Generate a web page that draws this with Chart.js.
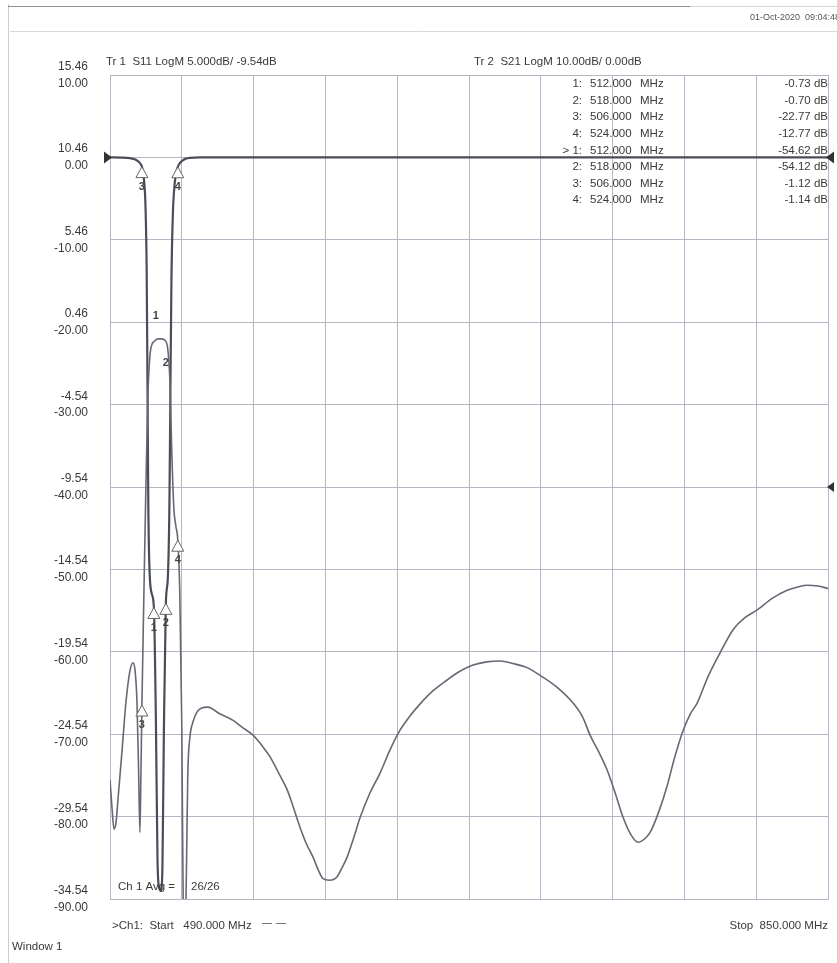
<!DOCTYPE html>
<html>
<head>
<meta charset="utf-8">
<script src="https://cdn.jsdelivr.net/npm/chart.js@4.4.0/dist/chart.umd.min.js"></script>
<style>
body{margin:0;background:#fff;}
</style>
</head>
<body>
<canvas id="vna" width="837" height="963"></canvas>
<script>
//Tr 1 (5 dB/div, escala izquierda)
var tr1Freq = [490,491,492,493,494,496,498,500,501.5,502.5,503.5,504.3,505,505.5,506,507,508,509,510,511,512,514,516,518,519,520,521,522,523,524,525,526,526.8,527.6,528.3,529,530,531.6,533.6,536,539,545,551.7,556,561.7,566,570.2,575,578.8,582,585.3,588.5,591.8,594.5,596.8,600,603.8,606.5,608.9,612,615.4,620,625.4,630,634.4,640,645.5,652,659,665,672,679,685.6,692,699.1,706,714.2,722.2,727,730.7,735,739.2,743,747.3,751,754.8,758,760.8,765,769.3,773,777.4,781,784.4,790,795.9,802.4,808,814.5,822,829.5,835,839.6,845,850];
var tr1Db = [-27.3,-29.0,-30.3,-29.9,-28.5,-25.6,-22.6,-20.7,-20.2,-20.6,-22.5,-26.5,-30.5,-27,-22.77,-16,-9.5,-4,-1.6,-0.9,-0.73,-0.55,-0.55,-0.70,-1.2,-3.0,-7.5,-10.8,-11.9,-12.77,-16,-24,-36,-37,-33,-27,-24.8,-23.8,-23.2,-22.95,-22.9,-23.3,-23.7,-24.1,-24.6,-25.2,-25.9,-27.0,-27.9,-29.0,-30.2,-31.2,-32.0,-32.8,-33.3,-33.4,-33.2,-32.6,-32.0,-30.9,-29.6,-28.2,-26.9,-25.6,-24.5,-23.5,-22.7,-21.9,-21.25,-20.75,-20.34,-20.15,-20.1,-20.25,-20.5,-21.0,-21.7,-22.65,-23.5,-24.6,-25.6,-26.7,-28.0,-29.6,-30.6,-31.1,-30.9,-30.5,-29.3,-27.7,-26.0,-24.3,-23.3,-22.65,-21.0,-19.6,-18.2,-17.5,-17.0,-16.3,-15.8,-15.6,-15.5,-15.55,-15.7];

//Tr 2 (10 dB/div)
var tr2Freq = [490,495,500,502,504,505,506,507,507.8,508.4,508.8,509.2,509.8,511,512,513,513.8,514.5,515.5,516.3,517,518,519,519.8,520.3,520.8,521.5,522.5,523.3,524,525,526.5,528,530,535,850];
var tr2Db = [0,-0.02,-0.08,-0.2,-0.45,-0.7,-1.12,-2.6,-6,-14,-28,-42,-50,-53,-54.62,-68,-85,-88.5,-89,-86,-70,-54.12,-51,-42,-28,-15,-7,-3,-1.7,-1.14,-0.7,-0.35,-0.15,-0.05,0,0];

//etiquetas eje
var tickS21 = [10,0,-10,-20,-30,-40,-50,-60,-70,-80,-90];
var tickS11 = ["15.46","10.46","5.46","0.46","-4.54","-9.54","-14.54","-19.54","-24.54","-29.54","-34.54"];
var freqTicks = [490,526,562,598,634,670,706,742,778,814,850];

//marcadores
var markerFreq = [512,518,506,524];
var markerFreqText = ["512.000","518.000","506.000","524.000"];
var tr1MarkerDb = [-0.73,-0.70,-22.77,-12.77];
var tr2MarkerDb = [-54.62,-54.12,-1.12,-1.14];

var gridColor = "#b3b7c4";
var textColor = "#3a3a3a";
var font = "'Liberation Sans', Arial, sans-serif";

function pts(xs, ys){
	var out = [];
	for (var i = 0; i < xs.length; i++) {
		out.push({x: xs[i], y: ys[i]});
	}
	return out;
}

function fmtDb(v){
	return v.toFixed(2) + " dB";
}

//triangulo de marcador
function tri(ctx, x, y){
	ctx.beginPath();
	ctx.moveTo(x, y);
	ctx.lineTo(x - 6, y + 11);
	ctx.lineTo(x + 6, y + 11);
	ctx.closePath();
	ctx.fillStyle = "#fff";
	ctx.fill();
	ctx.stroke();
}

var textPlugin = {
	id: "vnaText",
	afterDraw: function(chart){
		var ctx = chart.ctx;
		var xs = chart.scales.x;
		var y1 = chart.scales.y1;
		var y2 = chart.scales.y;
		var area = chart.chartArea;
		ctx.save();

		//marco de la pantalla
		ctx.strokeStyle = "#c9ccd4";
		ctx.lineWidth = 1;
		ctx.beginPath();
		ctx.moveTo(8.5, 4);
		ctx.lineTo(8.5, 963);
		ctx.stroke();
		ctx.strokeStyle = "#8d8f96";
		ctx.beginPath();
		ctx.moveTo(8, 6.5);
		ctx.lineTo(690, 6.5);
		ctx.stroke();
		ctx.strokeStyle = "#d6d8de";
		ctx.beginPath();
		ctx.moveTo(690, 6.5);
		ctx.lineTo(837, 6.5);
		ctx.moveTo(10, 31.5);
		ctx.lineTo(837, 31.5);
		ctx.stroke();

		ctx.fillStyle = "#555";
		ctx.font = "9px " + font;
		ctx.textAlign = "right";
		ctx.textBaseline = "middle";
		ctx.fillText("01-Oct-2020  09:04:48", 840, 18);

		ctx.fillStyle = textColor;
		ctx.font = "11.5px " + font;
		ctx.textAlign = "left";
		ctx.fillText("Tr 1  S11 LogM 5.000dB/ -9.54dB", 106, 62);
		ctx.fillText("Tr 2  S21 LogM 10.00dB/ 0.00dB", 474, 62);

		//tabla de marcadores
		var rowY = 84;
		for (var t = 0; t < 2; t++) {
			var vals = t == 0 ? tr1MarkerDb : tr2MarkerDb;
			for (var i = 0; i < markerFreq.length; i++) {
				ctx.textAlign = "right";
				var num = (i + 1) + ":";
				if (t == 1 && i == 0) num = "> 1:";
				ctx.fillText(num, 582, rowY);
				ctx.textAlign = "left";
				ctx.fillText(markerFreqText[i], 590, rowY);
				ctx.fillText("MHz", 640, rowY);
				ctx.textAlign = "right";
				ctx.fillText(fmtDb(vals[i]), 828, rowY);
				rowY += 16.6;
			}
		}

		//flechas de referencia
		ctx.fillStyle = "#333";
		var r0 = y2.getPixelForValue(0);
		ctx.beginPath();
		ctx.moveTo(area.left + 2, r0);
		ctx.lineTo(area.left - 6, r0 - 6);
		ctx.lineTo(area.left - 6, r0 + 6);
		ctx.fill();
		ctx.beginPath();
		ctx.moveTo(area.right - 2, r0);
		ctx.lineTo(area.right + 6, r0 - 6);
		ctx.lineTo(area.right + 6, r0 + 6);
		ctx.fill();
		var r1 = y1.getPixelForValue(-9.54);
		ctx.beginPath();
		ctx.moveTo(area.right - 1, r1);
		ctx.lineTo(area.right + 6, r1 - 5);
		ctx.lineTo(area.right + 6, r1 + 5);
		ctx.fill();

		//marcadores sobre las trazas
		ctx.strokeStyle = "#666";
		ctx.lineWidth = 1;
		ctx.font = "bold 11px " + font;
		ctx.textAlign = "center";
		for (var i = 0; i < markerFreq.length; i++) {
			var px = xs.getPixelForValue(markerFreq[i]);
			var py = y2.getPixelForValue(tr2MarkerDb[i]);
			tri(ctx, px, py);
			ctx.fillStyle = "#444";
			ctx.fillText(String(i + 1), px, py + 20);
			var qy = y1.getPixelForValue(tr1MarkerDb[i]);
			if (i == 0) {
				ctx.fillText("1", px + 2, qy - 26);
			} else if (i == 1) {
				ctx.fillText("2", px, qy + 22);
			} else {
				tri(ctx, px, qy);
				ctx.fillStyle = "#444";
				ctx.fillText(String(i + 1), px, qy + 20);
			}
		}

		//textos inferiores
		ctx.fillStyle = textColor;
		ctx.font = "11.5px " + font;
		ctx.textAlign = "left";
		ctx.fillText("Ch 1 Avg =     26/26", 118, 887);
		ctx.fillText(">Ch1:  Start   490.000 MHz", 112, 926);
		ctx.strokeStyle = "#777";
		ctx.beginPath();
		ctx.moveTo(262, 923.5);
		ctx.lineTo(272, 923.5);
		ctx.moveTo(276, 923.5);
		ctx.lineTo(286, 923.5);
		ctx.stroke();
		ctx.textAlign = "right";
		ctx.fillText("Stop  850.000 MHz", 828, 926);
		ctx.textAlign = "left";
		ctx.fillText("Window 1", 12, 947);
		ctx.restore();
	}
};

var chart = new Chart(document.getElementById("vna"), {
	type: "line",
	data: {
		datasets: [{
			label: "Tr 1",
			data: pts(tr1Freq, tr1Db),
			yAxisID: "y1",
			borderColor: "#666974",
			borderWidth: 1.6,
			pointRadius: 0,
			cubicInterpolationMode: "monotone"
		},
		{
			label: "Tr 2",
			data: pts(tr2Freq, tr2Db),
			yAxisID: "y",
			borderColor: "#4a4d59",
			borderWidth: 2.2,
			pointRadius: 0,
			cubicInterpolationMode: "monotone"
		}]
	},
	options: {
		responsive: false,
		animation: false,
		devicePixelRatio: 1,
		layout: {
			padding: {top: 75, right: 9, left: 0, bottom: 0}
		},
		plugins: {
			legend: {display: false},
			tooltip: {enabled: false}
		},
		scales: {
			x: {
				type: "linear",
				min: 490,
				max: 850,
				afterBuildTicks: function(s){
					s.ticks = freqTicks.map(function(v){ return {value: v}; });
				},
				afterFit: function(s){ s.height = 64; },
				ticks: {display: false},
				grid: {color: gridColor, drawTicks: false},
				border: {color: gridColor}
			},
			y: {
				position: "left",
				min: -90,
				max: 10,
				afterBuildTicks: function(s){
					s.ticks = tickS21.map(function(v){ return {value: v}; });
				},
				afterFit: function(s){ s.width = 110; },
				ticks: {
					color: textColor,
					padding: 22,
					font: {family: font, size: 12, lineHeight: 1.4},
					callback: function(v){
						var k = tickS21.indexOf(v);
						return [tickS11[k], v.toFixed(2)];
					}
				},
				grid: {color: gridColor, drawTicks: false},
				border: {color: gridColor}
			},
			y1: {
				display: false,
				min: -34.54,
				max: 15.46
			}
		}
	},
	plugins: [textPlugin]
});
</script>
</body>
</html>
